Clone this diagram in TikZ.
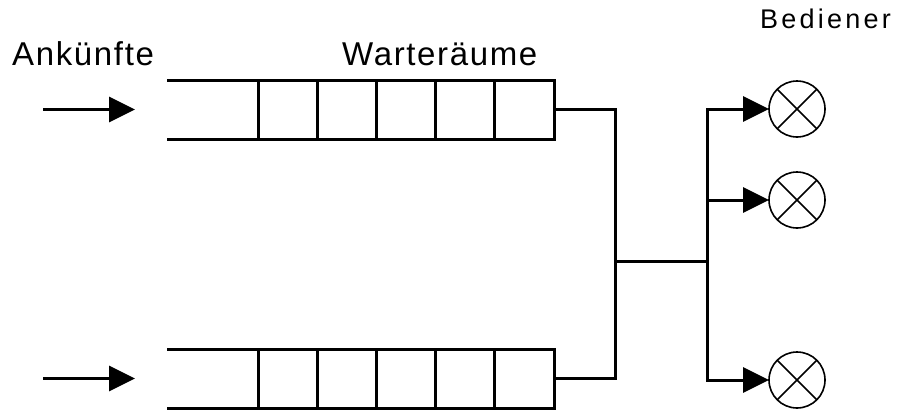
\documentclass[tikz,border=0pt]{standalone}
\usepackage{fontspec}
\setmainfont{Liberation Sans}
\usepackage{tikz}
\usetikzlibrary{arrows.meta,positioning}

\begin{document}
\begin{tikzpicture}[x=1pt,y=-1pt,
  thickline/.style={line width=3pt,line cap=rect},
  cell/.style={draw,line width=3pt,minimum width=59.2pt,minimum height=59pt,inner sep=0pt,outer sep=0pt},
  server/.style={draw,circle,line width=1.6pt,minimum size=56pt,inner sep=0pt,outer sep=0pt},
  tip/.style={-{Triangle[length=26pt,width=25pt]}},
  lab/.style={anchor=base west,inner sep=0pt,font=\fontsize{33}{35}\selectfont\addfontfeatures{LetterSpace=5}}]
  \useasboundingbox (0,0) rectangle (904,410);
  % queues with their arrivals
  \foreach \q/\y in {1/109.5,2/378.5}{
    \foreach \i in {1,...,5}
      \node[cell] (q\q c\i) at ({258+59.2*(\i-0.5)},\y) {};
    \draw[thickline] (q\q c1.north west) -- ++(-90,0);
    \draw[thickline] (q\q c1.south west) -- ++(-90,0);
    \coordinate (in\q) at (44,\y);
    \coordinate (end\q) at (135,\y);
    \draw[thickline,tip] (in\q) -- (end\q);
  }
  % servers
  \foreach \s/\y in {1/109,2/200,3/380}{
    \node[server] (s\s) at (797,\y) {};
    \draw[line width=1.6pt] (s\s.north west) -- (s\s.south east) (s\s.north east) -- (s\s.south west);
  }
  \coordinate (join) at (615,261);
  \coordinate (split) at (707,261);
  \draw[thickline] (q1c5.east) -| (join);
  \draw[thickline] (q2c5.east) -| (join);
  \draw[thickline] (join) -- (split);
  \foreach \s in {1,2,3}
    \draw[thickline,tip] (split) |- (s\s);
  \node[lab] (arr) at (12,65) {Ankünfte};
  \node[lab] (wait) at (342,65) {Warteräume};
  \node[lab,font=\fontsize{27}{29}\selectfont\addfontfeatures{LetterSpace=12}] (serv) at (760,28) {Bediener};
\end{tikzpicture}
\end{document}
